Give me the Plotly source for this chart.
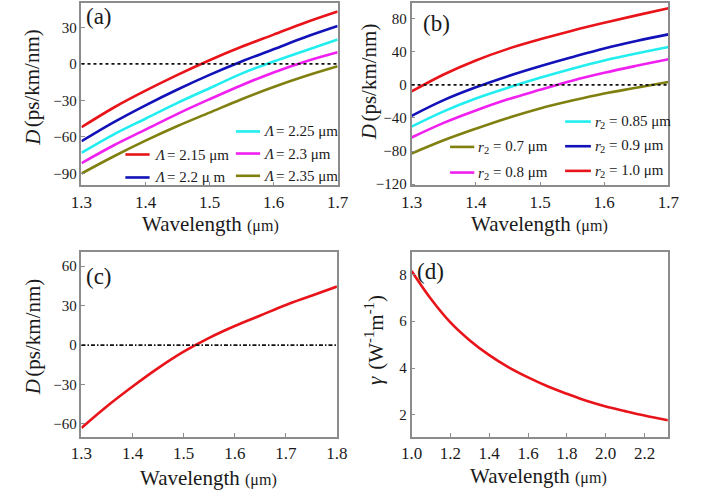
import plotly.graph_objects as go

# ---------------- data ----------------
wl_ab = [1.30, 1.35, 1.40, 1.45, 1.50, 1.55, 1.60, 1.65, 1.70]

# panel (a): pitch Lambda
a_labels = ["2.15", "2.2", "2.25", "2.3", "2.35"]
a_215 = [-52, -36, -22, -9, 3, 14, 24, 34, 43]
a_220 = [-63.5, -48, -34, -21, -9, 2, 12, 22, 31]
a_225 = [-73, -58, -45, -32, -20, -8, 2, 11, 20]
a_230 = [-81.5, -67, -54, -41, -29, -17.5, -7, 2, 9.5]
a_235 = [-90, -76, -63, -51, -40, -29, -19, -10, -2]

# panel (b): r2
b_labels = ["0.7", "0.8", "0.85", "0.9", "1.0"]
b_070 = [-83, -67, -53, -40, -28.5, -19, -10.5, -3.5, 3.5]
b_080 = [-63.7, -46, -31, -17.5, -6, 5, 14.5, 23, 31]
b_085 = [-50.5, -32, -16.5, -3.5, 8.5, 19.5, 29.5, 38, 45.7]
b_090 = [-37.5, -18.5, -3, 10.5, 22.5, 33.5, 44, 53, 61]
b_100 = [-8, 12.5, 29.5, 43.5, 55, 65.5, 75, 84, 92.5]

# panel (c)
wl_c = [1.30, 1.35, 1.40, 1.45, 1.50, 1.55, 1.60, 1.65, 1.70, 1.75, 1.80]
d_c = [-63, -46.5, -31.5, -17.5, -5, 5.5, 14.5, 22.5, 30.5, 37.5, 44.5]

# panel (d)
wl_d = [1.0, 1.1, 1.2, 1.3, 1.4, 1.5, 1.6, 1.7, 1.8, 1.9, 2.0, 2.1, 2.2, 2.32]
gamma_d = [8.15, 6.95, 5.95, 5.18, 4.55, 4.03, 3.6, 3.22, 2.9, 2.6, 2.36, 2.16, 1.97, 1.77]

# ---------------- styling ----------------
W, H = 715, 500
FONT = "Liberation Serif"
FRAME = "#8c8c8c"
TXT = "#1a1a1a"
RED, BLUE, CYAN, MAG, OLIVE = "#e8141a", "#1212b8", "#22eef0", "#f020f0", "#808010"


def px(x):
    return x / W


def py(y):
    return 1 - y / H


fig = go.Figure()

line_kw = dict(width=2.6, shape="spline", smoothing=1.0)

# panel (a) traces
for vals, col in zip([a_215, a_220, a_225, a_230, a_235], [RED, BLUE, CYAN, MAG, OLIVE]):
    fig.add_trace(go.Scatter(x=wl_ab, y=vals, mode="lines", xaxis="x", yaxis="y",
                             line=dict(color=col, **line_kw), showlegend=False, hoverinfo="skip"))
# panel (b) traces
for vals, col in zip([b_070, b_080, b_085, b_090, b_100], [OLIVE, MAG, CYAN, BLUE, RED]):
    fig.add_trace(go.Scatter(x=wl_ab, y=vals, mode="lines", xaxis="x2", yaxis="y2",
                             line=dict(color=col, **line_kw), showlegend=False, hoverinfo="skip"))
# panel (c)
fig.add_trace(go.Scatter(x=wl_c, y=d_c, mode="lines", xaxis="x3", yaxis="y3",
                         line=dict(color=RED, **line_kw), showlegend=False, hoverinfo="skip"))
# panel (d)
fig.add_trace(go.Scatter(x=wl_d, y=gamma_d, mode="lines", xaxis="x4", yaxis="y4",
                         line=dict(color=RED, **line_kw), showlegend=False, hoverinfo="skip"))

# ---------------- axes ----------------
dom_x_left = [px(72.7), px(337)]
dom_x_right = [px(413.3), px(678.3)]
dom_y_top = [py(188), py(3)]
dom_y_bot = [py(443.3), py(256)]

common = dict(showline=True, mirror=True, linecolor=FRAME, linewidth=1.5,
              ticks="inside", ticklen=4, tickcolor=FRAME, tickwidth=1,
              showgrid=False, zeroline=False)
xfont = dict(family=FONT, size=17, color=TXT)
yfont = dict(family=FONT, size=15, color=TXT)

fig.update_layout(
    xaxis=dict(domain=dom_x_left, anchor="y", range=[1.3, 1.7], tickvals=[1.3, 1.4, 1.5, 1.6, 1.7],
               tickformat=".1f", tickfont=xfont, **common),
    yaxis=dict(domain=dom_y_top, anchor="x", range=[-99.7, 50], tickvals=[-90, -60, -30, 0, 30],
               tickfont=yfont, **common),
    xaxis2=dict(domain=dom_x_right, anchor="y2", range=[1.3, 1.7], tickvals=[1.3, 1.4, 1.5, 1.6, 1.7],
                tickformat=".1f", tickfont=xfont, **common),
    yaxis2=dict(domain=dom_y_top, anchor="x2", range=[-121.5, 99], tickvals=[-120, -80, -40, 0, 40, 80],
                tickfont=yfont, **common),
    xaxis3=dict(domain=[px(72.7), px(336.3)], anchor="y3", range=[1.3, 1.8],
                tickvals=[1.3, 1.4, 1.5, 1.6, 1.7, 1.8], tickformat=".1f", tickfont=xfont, **common),
    yaxis3=dict(domain=dom_y_bot, anchor="x3", range=[-70, 70.5], tickvals=[-60, -30, 0, 30, 60],
                tickfont=yfont, **common),
    xaxis4=dict(domain=[px(413.3), px(677.7)], anchor="y4", range=[1.0, 2.32],
                tickvals=[1.0, 1.2, 1.4, 1.6, 1.8, 2.0, 2.2], tickformat=".1f", tickfont=xfont, **common),
    yaxis4=dict(domain=dom_y_bot, anchor="x4", range=[1.05, 8.94], tickvals=[2, 4, 6, 8],
                tickfont=yfont, **common),
    width=W, height=H, margin=dict(l=0, r=0, t=0, b=0),
    paper_bgcolor="white", plot_bgcolor="white",
    font=dict(family=FONT, color=TXT),
)

# zero reference lines
for xr, yr, dash in [("x domain", "y", "dot"), ("x2 domain", "y2", "dot"),
                     ("x3 domain", "y3", "4px,2px,1.5px,2px")]:
    fig.add_shape(type="line", xref=xr, yref=yr, x0=0, x1=1, y0=0, y1=0,
                  line=dict(color="#111", width=1.8, dash=dash))

# ---------------- annotations ----------------
def ann(text, x, y, size, angle=0, xanchor="center", italic=False):
    fig.add_annotation(text=text, x=px(x), y=py(y), xref="paper", yref="paper",
                       showarrow=False, textangle=angle, xanchor=xanchor, yanchor="middle",
                       font=dict(family=FONT, size=size, color=TXT,
                                 style="italic" if italic else "normal"))

wl_title = "Wavelength <span style='font-size:16px'>(μm)</span>"
ann(wl_title, 206, 227, 21)
ann(wl_title, 545, 227, 21)
ann(wl_title, 204, 485, 21)
ann(wl_title, 544, 483, 21)


def ytitle(sym, rest, x, y_bottom):
    # rotated title reading bottom -> top: italic symbol at bottom, rest above it
    ann(sym, x, y_bottom - 7.5, 21, -90, italic=True)
    ann(rest, x, y_bottom - 19 - 49, 21, -90)


ytitle("D", "(ps/km/nm)", 22, 147)
ytitle("D", "(ps/km/nm)", 369, 142)
ytitle("D", "(ps/km/nm)", 23, 400)

ann("γ", 375, 386, 21, -90, italic=True)
ann("(W<sup>-1</sup>m<sup>-1</sup>)", 375, 337, 21, -90)

ann("(a)", 91, 17, 23)
ann("(b)", 439, 24, 23)
ann("(c)", 91, 280, 23)
ann("(d)", 433, 275, 23)

# legend entries (line sample + label)
LF = 15


def leg(x0, x1, y, col, sym, rest, tx, symw):
    fig.add_shape(type="line", xref="paper", yref="paper", x0=px(x0), x1=px(x1), y0=py(y), y1=py(y),
                  line=dict(color=col, width=2.6))
    ann(sym, tx, y, LF, xanchor="left", italic=True)
    ann(rest, tx + symw, y, LF, xanchor="left")

um = " μm"
LW = 13.5
leg(118, 143, 156.7, RED, "Λ", "= " + a_labels[0] + um, 145, LW)
leg(118, 143, 180, BLUE, "Λ", "= " + a_labels[1] + " μ m", 145, LW)
leg(232, 257, 133.3, CYAN, "Λ", "= " + a_labels[2] + um, 258, LW)
leg(232, 257, 155.7, MAG, "Λ", "= " + a_labels[3] + um, 258, LW)
leg(232, 257, 178.3, OLIVE, "Λ", "= " + a_labels[4] + um, 258, LW)

RW = 6
leg(453, 478, 149, OLIVE, "r", "<sub>2</sub> = " + b_labels[0] + um, 480, RW)
leg(453, 478, 175, MAG, "r", "<sub>2</sub> = " + b_labels[1] + um, 480, RW)
leg(571.7, 598.3, 123.3, CYAN, "r", "<sub>2</sub> = " + b_labels[2] + um, 600, RW)
leg(571.7, 598.3, 148.3, BLUE, "r", "<sub>2</sub> = " + b_labels[3] + um, 600, RW)
leg(571.7, 598.3, 173.3, RED, "r", "<sub>2</sub> = " + b_labels[4] + um, 600, RW)

fig.write_html("out.html")
